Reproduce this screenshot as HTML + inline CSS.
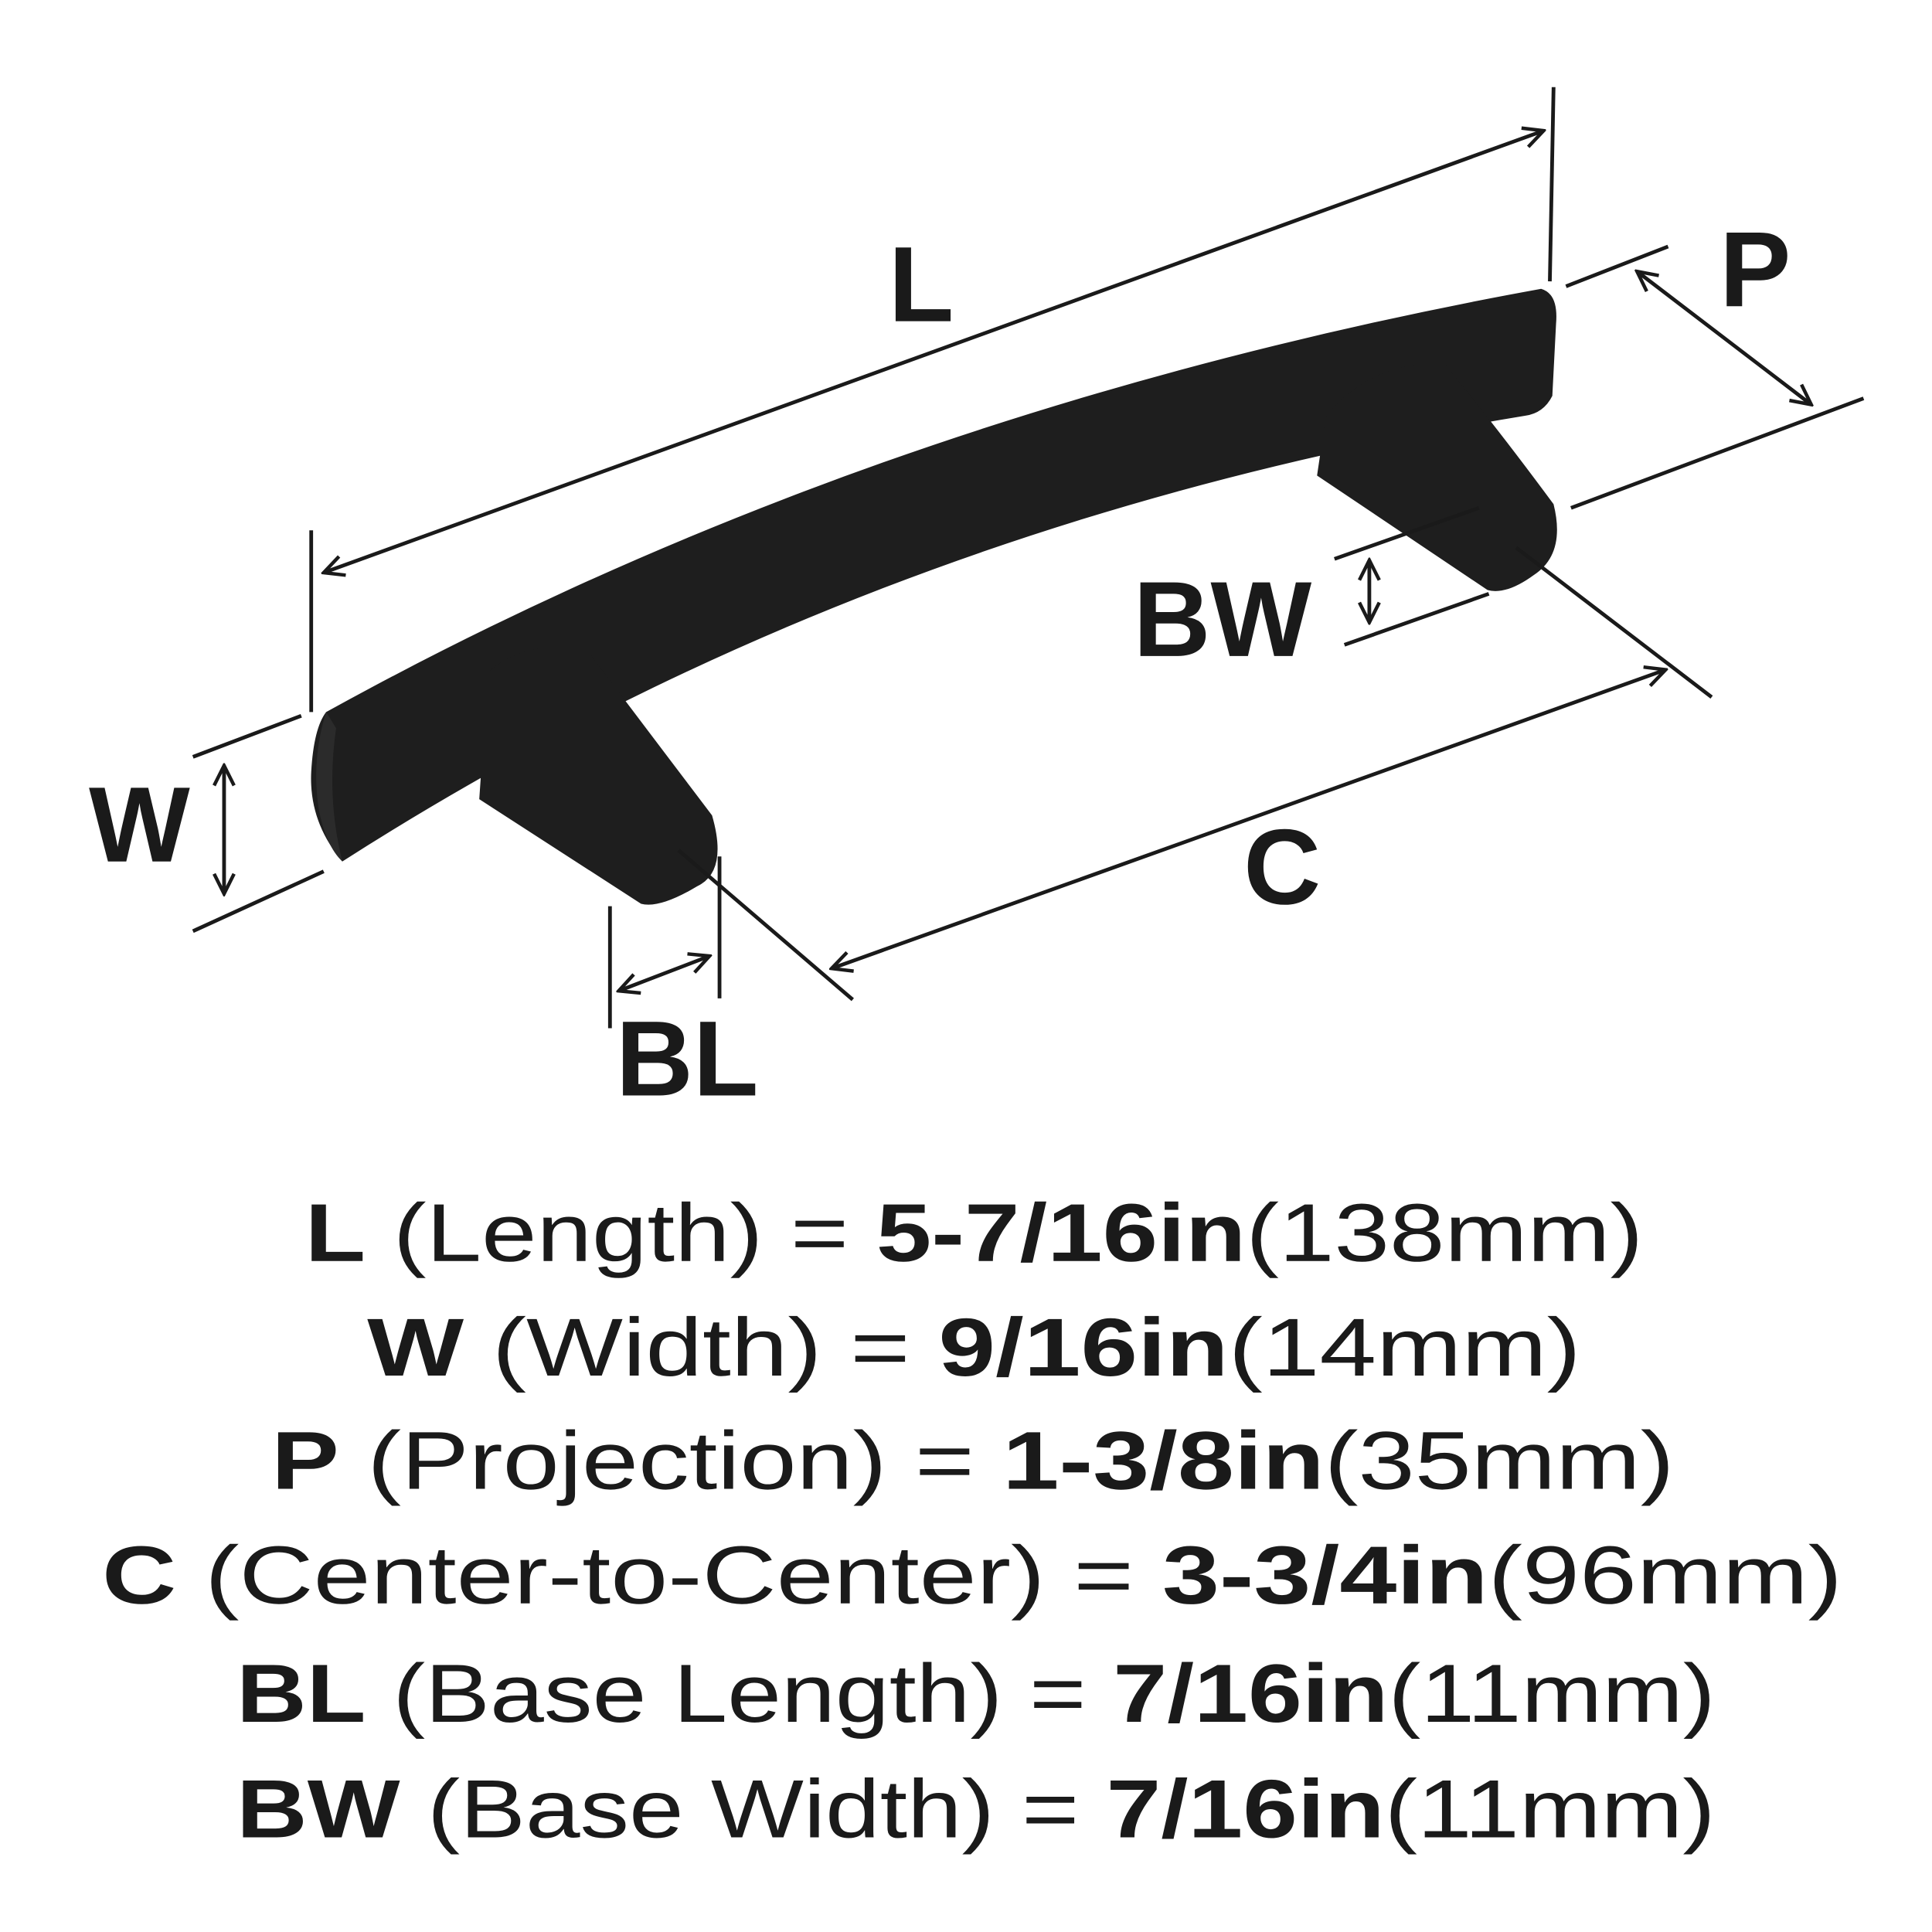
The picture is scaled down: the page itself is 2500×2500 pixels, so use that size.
<!DOCTYPE html>
<html><head><style>html,body{margin:0;padding:0;background:#fff}svg{display:block}</style></head>
<body>
<svg width="2500" height="2500" viewBox="0 0 1552 1552" xmlns="http://www.w3.org/2000/svg">
<defs>
<marker id="a" viewBox="0 0 20 20" refX="18" refY="10" markerWidth="20" markerHeight="20" markerUnits="userSpaceOnUse" orient="auto-start-reverse">
<path d="M2,2 L18,10 L2,18" fill="none" stroke="#1a1a1a" stroke-width="2.8"/>
</marker>
</defs>
<rect width="1552" height="1552" fill="#fff"/>
<g fill="#1e1e1e">
<path d="M262,572 Q700,330 1238,232 Q1252,236 1250,260 L1247,318 Q1240,332 1225,334 Q700,420 275,692 Q248,660 250,620 Q252,585 262,572 Z"/>
<path d="M392,540 Q420,515 470,520 Q500,560 572,655 Q585,700 560,712 Q530,730 515,726 L385,642 Z"/>
<path d="M1065,335 Q1100,290 1160,292 Q1200,340 1248,405 Q1258,445 1232,462 Q1210,478 1195,474 L1058,382 Z"/>
</g>
<g fill="#2b2b2b"><path d="M262,572 Q250,610 256,650 Q262,680 275,692 Q262,640 270,585 Z"/></g>
<g stroke="#1a1a1a" stroke-width="3" fill="none">
<line x1="250" y1="426" x2="250" y2="572"/>
<line x1="1248" y1="70" x2="1245" y2="226"/>
<line x1="260" y1="460" x2="1240" y2="105" marker-start="url(#a)" marker-end="url(#a)"/>
<line x1="1258" y1="230" x2="1340" y2="198"/>
<line x1="1262" y1="408" x2="1497" y2="320"/>
<line x1="1315" y1="218" x2="1455" y2="325" marker-start="url(#a)" marker-end="url(#a)"/>
<line x1="155" y1="608" x2="242" y2="575"/>
<line x1="155" y1="748" x2="260" y2="700"/>
<line x1="180" y1="615" x2="180" y2="718" marker-start="url(#a)" marker-end="url(#a)"/>
<line x1="490" y1="728" x2="490" y2="826"/>
<line x1="578" y1="688" x2="578" y2="802"/>
<line x1="497" y1="796" x2="570" y2="768" marker-start="url(#a)" marker-end="url(#a)"/>
<line x1="545" y1="683" x2="685" y2="803"/>
<line x1="1218" y1="440" x2="1375" y2="560"/>
<line x1="668" y1="778" x2="1338" y2="538" marker-start="url(#a)" marker-end="url(#a)"/>
<line x1="1072" y1="449" x2="1188" y2="408"/>
<line x1="1080" y1="518" x2="1196" y2="477"/>
<line x1="1100" y1="450" x2="1100" y2="500" marker-start="url(#a)" marker-end="url(#a)"/>
</g>
<g fill="#1a1a1a" font-family="Liberation Sans, sans-serif" font-weight="bold" font-size="86" text-anchor="middle">
<text x="740" y="258">L</text>
<text x="1410" y="246">P</text>
<text x="112" y="692">W</text>
<text x="552" y="880">BL</text>
<text x="1030" y="726">C</text>
<text x="982" y="527">BW</text>
</g>
<g fill="#1a1a1a" font-family="Liberation Sans, sans-serif" font-size="66">
<text x="245" y="1013" textLength="1075" lengthAdjust="spacingAndGlyphs"><tspan font-weight="bold">L</tspan> (Length) = <tspan font-weight="bold">5-7/16in</tspan>(138mm)</text>
<text x="295" y="1105" textLength="975" lengthAdjust="spacingAndGlyphs"><tspan font-weight="bold">W</tspan> (Width) = <tspan font-weight="bold">9/16in</tspan>(14mm)</text>
<text x="218" y="1196" textLength="1127" lengthAdjust="spacingAndGlyphs"><tspan font-weight="bold">P</tspan> (Projection) = <tspan font-weight="bold">1-3/8in</tspan>(35mm)</text>
<text x="82" y="1288" textLength="1398" lengthAdjust="spacingAndGlyphs"><tspan font-weight="bold">C</tspan> (Center-to-Center) = <tspan font-weight="bold">3-3/4in</tspan>(96mm)</text>
<text x="190" y="1383" textLength="1188" lengthAdjust="spacingAndGlyphs"><tspan font-weight="bold">BL</tspan> (Base Length) = <tspan font-weight="bold">7/16in</tspan>(11mm)</text>
<text x="190" y="1476" textLength="1188" lengthAdjust="spacingAndGlyphs"><tspan font-weight="bold">BW</tspan> (Base Width) = <tspan font-weight="bold">7/16in</tspan>(11mm)</text>
</g>
</svg>
</body></html>
